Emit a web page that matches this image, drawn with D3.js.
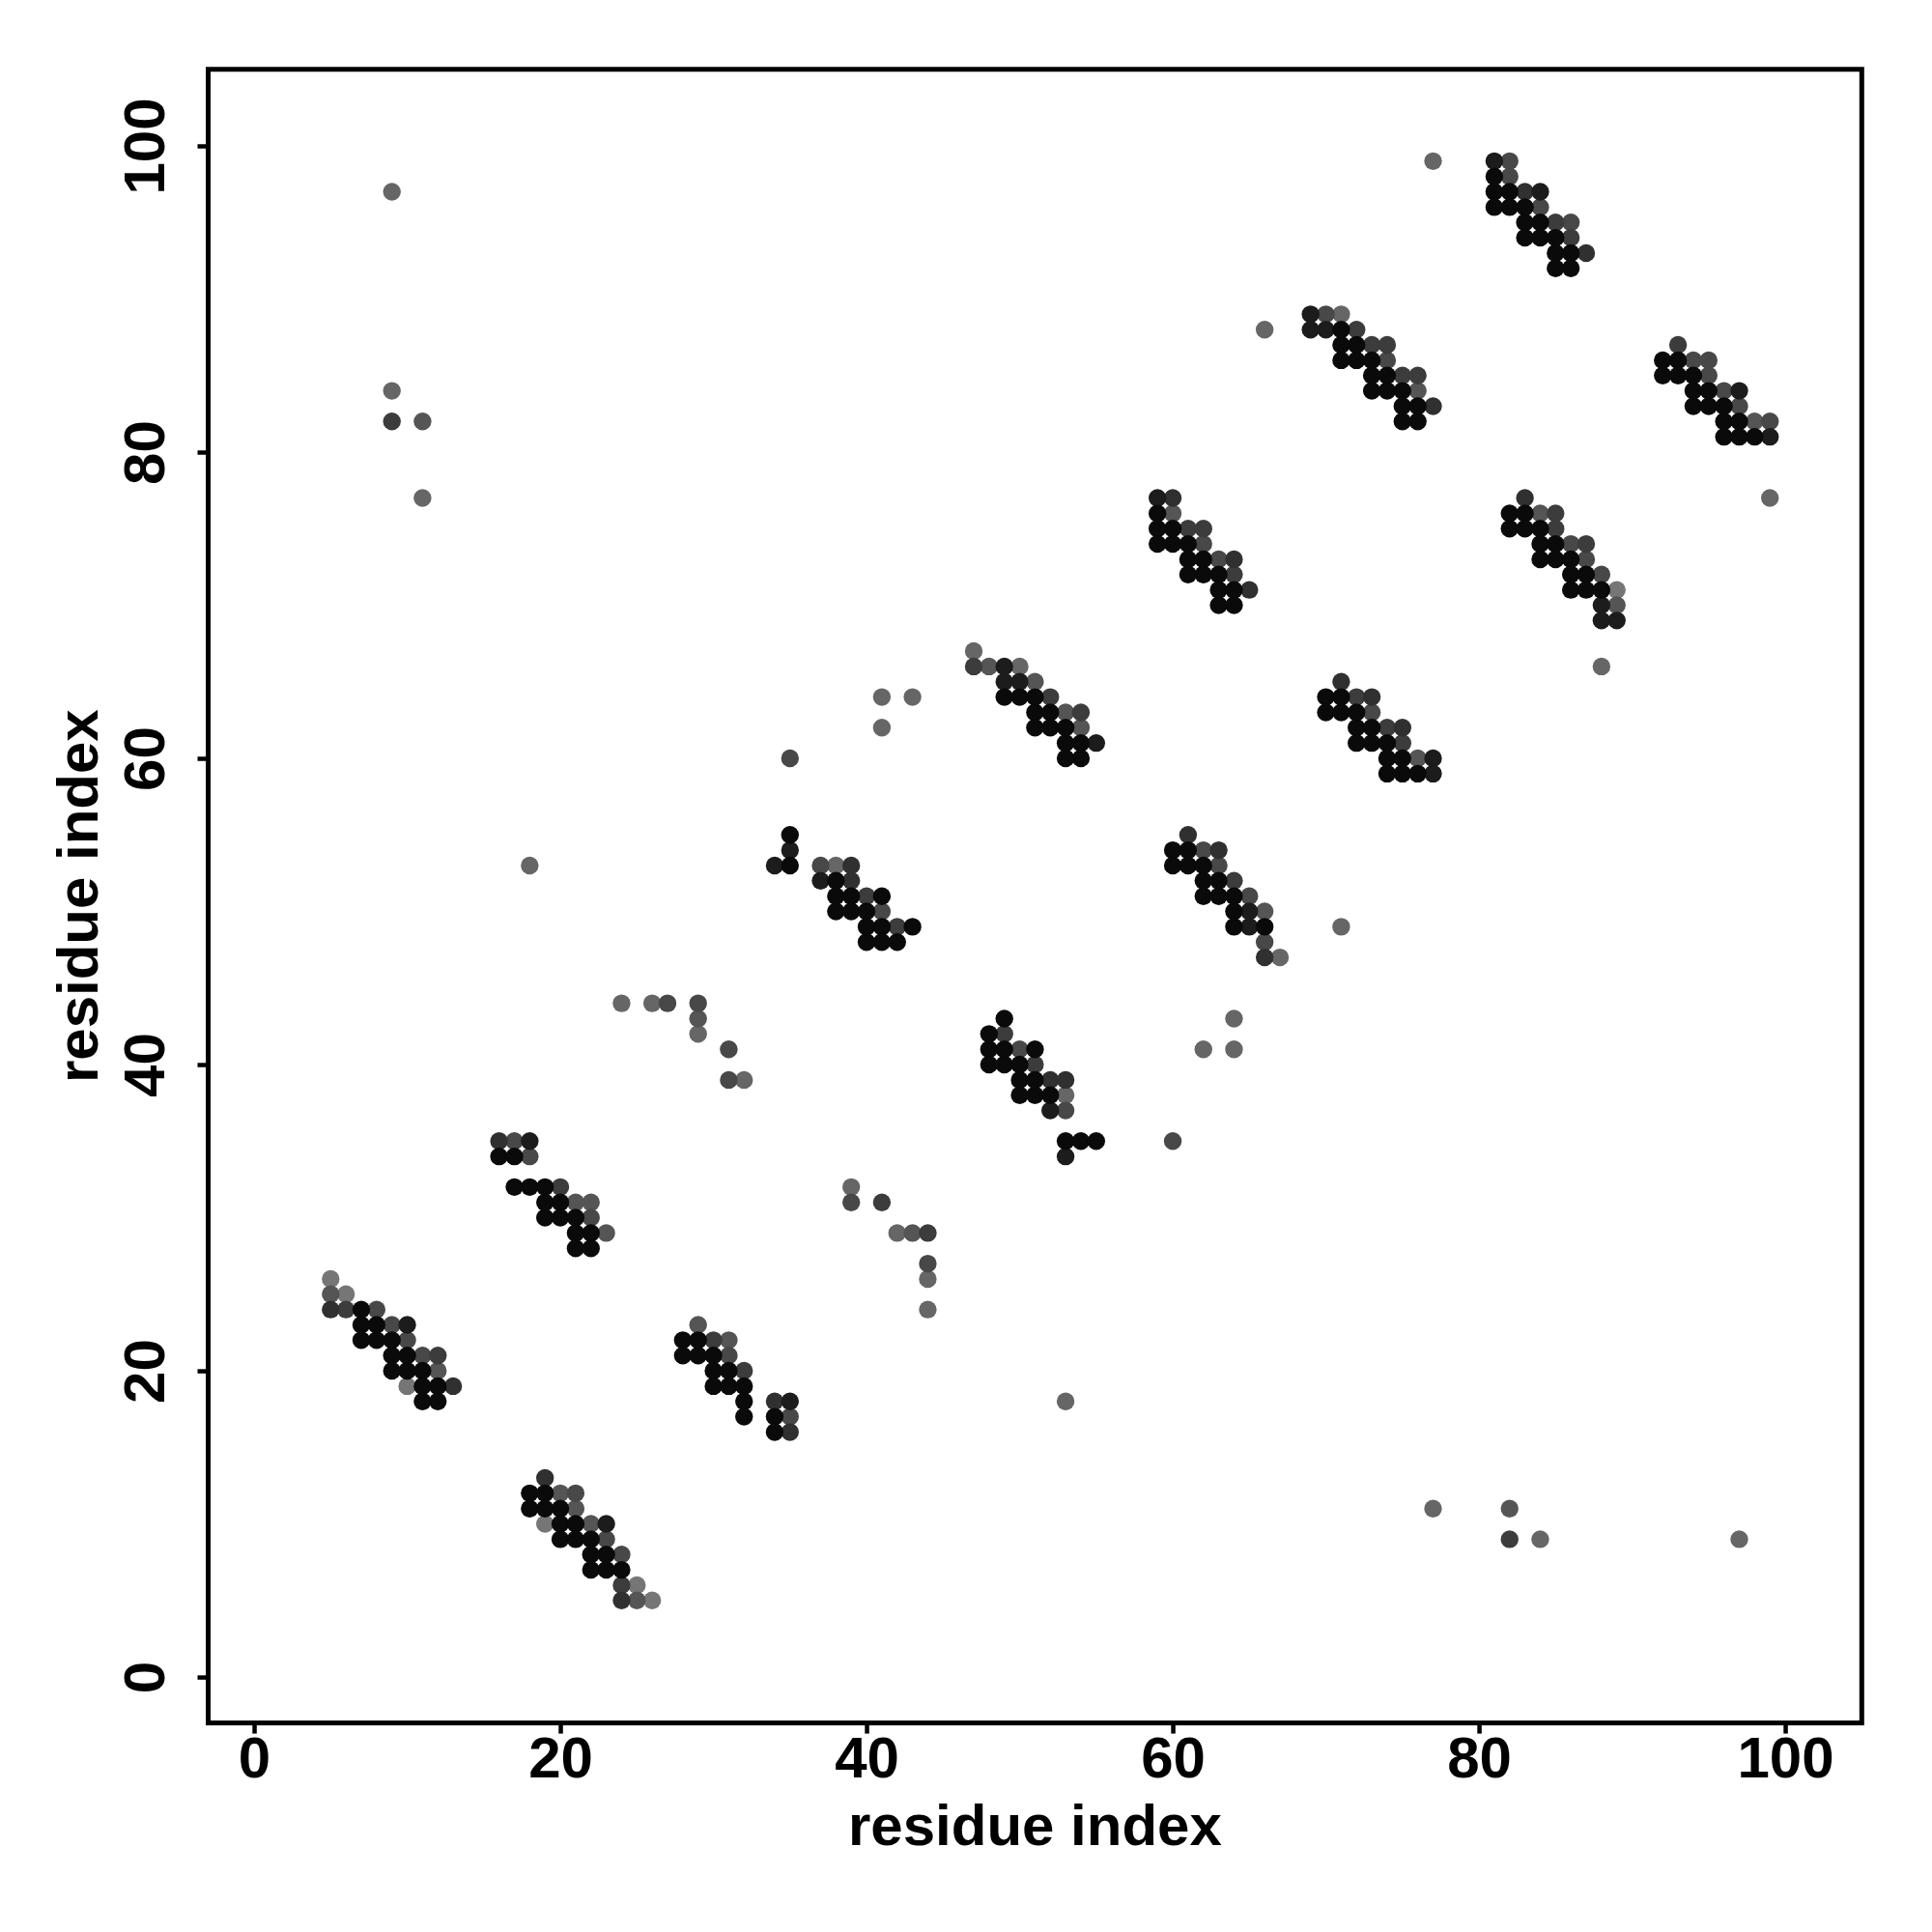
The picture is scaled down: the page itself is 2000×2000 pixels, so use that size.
<!DOCTYPE html>
<html><head><meta charset="utf-8">
<script src="https://cdn.jsdelivr.net/npm/d3@7"></script>
<style>body{margin:0;background:#fff}</style>
</head><body>
<svg id="chart" width="2000" height="2000"></svg>
<script>
// contact triples: [residue i, residue j, shade level (0 = strongest/darkest)]
const blockA = [[16,35,2],[17,35,4],[18,35,1],[16,34,0],[17,34,0],[18,34,4],[17,32,0],[18,32,0],[19,32,0],[20,32,3],[19,31,0],[20,31,0],[21,31,5],[22,31,5],[19,30,0],[20,30,0],[21,30,0],[22,30,4],[21,29,0],[22,29,0],[23,29,5],[21,28,0],[22,28,0]];
const blockB = [[5,26,7],[5,25,5],[6,25,7],[5,24,2],[6,24,3],[7,24,0],[8,24,4],[7,23,0],[8,23,0],[9,23,4],[10,23,1],[7,22,0],[8,22,0],[9,22,0],[10,22,4],[9,21,0],[10,21,0],[11,21,4],[12,21,3],[9,20,0],[10,20,0],[11,20,0],[12,20,5],[10,19,7],[11,19,0],[12,19,0],[13,19,2],[11,18,0],[12,18,0]];
const blockC = [[19,13,2],[18,12,0],[19,12,0],[20,12,5],[21,12,4],[18,11,0],[19,11,0],[20,11,0],[21,11,5],[19,10,7],[20,10,0],[21,10,0],[22,10,5],[23,10,1],[20,9,0],[21,9,0],[22,9,0],[23,9,4],[22,8,0],[23,8,0],[24,8,4],[22,7,0],[23,7,0],[24,7,0],[24,6,3],[25,6,7],[24,5,2],[25,5,5],[26,5,7]];
const blockD = [[29,23,5],[28,22,0],[29,22,0],[30,22,3],[31,22,5],[28,21,0],[29,21,0],[30,21,0],[31,21,4],[30,20,0],[31,20,0],[32,20,3],[30,19,0],[31,19,0],[32,19,0],[32,18,0],[32,17,0],[34,18,2],[35,18,1],[34,17,0],[35,17,4],[34,16,0],[35,16,2]];
const blockE = [[47,67,6],[47,66,3],[48,66,5],[49,66,1],[50,66,6],[49,65,1],[50,65,1],[51,65,5],[49,64,0],[50,64,0],[51,64,0],[52,64,3],[51,63,0],[52,63,0],[53,63,5],[54,63,3],[51,62,0],[52,62,0],[53,62,0],[54,62,5],[53,61,0],[54,61,0],[55,61,1],[53,60,0],[54,60,0]];
const blockF = [[35,55,0],[35,54,1],[35,53,0],[34,53,1],[37,53,4],[38,53,6],[39,53,2],[37,52,1],[38,52,0],[39,52,2],[38,51,0],[39,51,0],[40,51,3],[41,51,0],[38,50,0],[39,50,0],[40,50,0],[41,50,4],[40,49,0],[41,49,0],[42,49,3],[43,49,0],[40,48,0],[41,48,0],[42,48,0]];
const blockG = [[49,43,0],[48,42,0],[49,42,3],[48,41,0],[49,41,0],[50,41,4],[51,41,0],[48,40,0],[49,40,0],[50,40,0],[51,40,3],[50,39,0],[51,39,0],[52,39,2],[53,39,2],[50,38,0],[51,38,0],[52,38,0],[53,38,6],[52,37,1],[53,37,4],[53,35,0],[54,35,0],[55,35,0],[53,34,1]];
const blockH = [[59,77,1],[60,77,2],[59,76,0],[60,76,5],[59,75,0],[60,75,0],[61,75,3],[62,75,3],[59,74,0],[60,74,0],[61,74,0],[62,74,4],[61,73,0],[62,73,0],[63,73,4],[64,73,2],[61,72,0],[62,72,0],[63,72,0],[64,72,3],[63,71,0],[64,71,0],[65,71,2],[63,70,0],[64,70,0]];
const blockI = [[71,65,2],[70,64,0],[71,64,0],[72,64,3],[73,64,2],[70,63,0],[71,63,0],[72,63,0],[73,63,4],[72,62,0],[73,62,0],[74,62,3],[75,62,2],[72,61,0],[73,61,0],[74,61,0],[75,61,3],[74,60,0],[75,60,0],[76,60,5],[77,60,1],[74,59,0],[75,59,0],[76,59,0],[77,59,1]];
const blockJ = [[61,55,2],[60,54,0],[61,54,0],[62,54,4],[63,54,2],[60,53,0],[61,53,0],[62,53,0],[63,53,4],[62,52,0],[63,52,0],[64,52,3],[62,51,0],[63,51,0],[64,51,0],[65,51,4],[64,50,0],[65,50,1],[66,50,5],[64,49,0],[65,49,1],[66,49,0],[66,48,4],[66,47,2],[67,47,6]];
const blockK = [[81,99,1],[82,99,4],[81,98,0],[82,98,4],[81,97,0],[82,97,0],[83,97,2],[84,97,1],[81,96,0],[82,96,0],[83,96,0],[84,96,4],[83,95,0],[84,95,0],[85,95,3],[86,95,4],[83,94,0],[84,94,0],[85,94,0],[86,94,3],[85,93,0],[86,93,0],[87,93,2],[85,92,0],[86,92,0]];
const blockL = [[69,89,1],[70,89,4],[71,89,6],[69,88,1],[70,88,1],[71,88,0],[72,88,3],[71,87,0],[72,87,0],[73,87,3],[74,87,3],[71,86,0],[72,86,0],[73,86,0],[74,86,4],[73,85,0],[74,85,0],[75,85,3],[76,85,3],[73,84,0],[74,84,0],[75,84,0],[76,84,5],[75,83,0],[76,83,0],[77,83,2],[75,82,0],[76,82,0]];
const blockM = [[83,77,2],[82,76,0],[83,76,0],[84,76,5],[85,76,3],[82,75,0],[83,75,0],[84,75,0],[85,75,3],[84,74,0],[85,74,0],[86,74,4],[87,74,3],[84,73,0],[85,73,0],[86,73,0],[87,73,4],[86,72,0],[87,72,0],[88,72,4],[86,71,0],[87,71,0],[88,71,0],[89,71,7],[88,70,1],[89,70,5],[88,69,1],[89,69,1]];
const blockN = [[93,87,3],[92,86,0],[93,86,0],[94,86,4],[95,86,4],[92,85,0],[93,85,0],[94,85,0],[95,85,4],[94,84,0],[95,84,0],[96,84,4],[97,84,1],[94,83,0],[95,83,0],[96,83,0],[97,83,4],[96,82,0],[97,82,0],[98,82,5],[99,82,4],[96,81,0],[97,81,0],[98,81,0],[99,81,1]];
const sparse = [[9,97,6],[9,84,6],[9,82,3],[11,82,5],[11,77,6],[18,53,6],[24,44,6],[26,44,6],[27,44,4],[29,44,4],[29,43,5],[29,42,6],[31,41,4],[31,39,4],[32,39,6],[39,32,6],[39,31,4],[41,31,3],[42,29,6],[43,29,5],[44,29,3],[44,27,4],[44,26,6],[44,24,6],[41,64,6],[43,64,6],[41,62,6],[35,60,4],[53,18,6],[60,35,4],[62,41,6],[64,43,6],[64,41,6],[71,49,6],[66,88,6],[77,99,6],[88,66,6],[99,77,6],[77,11,6],[82,11,5],[82,9,3],[84,9,6],[97,9,6]];

const grayLevels = [10, 28, 48, 60, 72, 85, 102, 118];
const tickValues = [0, 20, 40, 60, 80, 100];
const xTitle = "residue index";
const yTitle = "residue index";

(function () {
  const points = [].concat(blockA, blockB, blockC, blockD, blockE, blockF, blockG,
    blockH, blockI, blockJ, blockK, blockL, blockM, blockN, sparse)
    .map(d => ({i: d[0], j: d[1], s: d[2]}))
    .sort((a, b) => b.s - a.s);

  const svg = d3.select("#chart");
  const pLeft = 215.5, pRight = 1927.3, pTop = 71.75, pBottom = 1783.6;
  const x = d3.scaleLinear().domain([-3, 105]).range([pLeft, pRight]);
  const y = d3.scaleLinear().domain([-3, 105]).range([pBottom, pTop]);
  const font = "'Liberation Sans', Arial, Helvetica, sans-serif";

  svg.append("rect").attr("width", 2000).attr("height", 2000).attr("fill", "#fff");

  svg.append("g").selectAll("circle").data(points).join("circle")
    .attr("cx", d => x(d.i))
    .attr("cy", d => y(d.j))
    .attr("r", 9.2)
    .attr("fill", d => { const g = grayLevels[d.s]; return d3.rgb(g, g, g).toString(); });

  svg.append("rect")
    .attr("x", pLeft).attr("y", pTop)
    .attr("width", pRight - pLeft).attr("height", pBottom - pTop)
    .attr("fill", "none").attr("stroke", "#000").attr("stroke-width", 5);

  const xAxis = svg.append("g").attr("transform", `translate(0,${pBottom})`)
    .call(d3.axisBottom(x).tickValues(tickValues).tickSize(11).tickSizeOuter(0));
  xAxis.select(".domain").remove();
  xAxis.selectAll(".tick line").attr("stroke", "#000").attr("stroke-width", 4.5);
  xAxis.selectAll(".tick text")
    .attr("y", 56).attr("dy", 0)
    .attr("font-family", font).attr("font-weight", "bold").attr("font-size", 60)
    .attr("fill", "#000");

  const yAxis = svg.append("g").attr("transform", `translate(${pLeft},0)`)
    .call(d3.axisLeft(y).tickValues(tickValues).tickSize(11).tickSizeOuter(0));
  yAxis.select(".domain").remove();
  yAxis.selectAll(".tick line").attr("stroke", "#000").attr("stroke-width", 4.5);
  yAxis.selectAll(".tick text")
    .attr("x", 0).attr("y", 0).attr("dy", 0)
    .attr("text-anchor", "middle")
    .attr("transform", "translate(-45.5,0) rotate(-90)")
    .attr("font-family", font).attr("font-weight", "bold").attr("font-size", 60)
    .attr("fill", "#000");

  svg.append("text")
    .attr("x", (pLeft + pRight) / 2).attr("y", 1910)
    .attr("text-anchor", "middle")
    .attr("font-family", font).attr("font-weight", "bold").attr("font-size", 60)
    .text(xTitle);

  svg.append("text")
    .attr("transform", `translate(101,${(pTop + pBottom) / 2}) rotate(-90)`)
    .attr("text-anchor", "middle")
    .attr("font-family", font).attr("font-weight", "bold").attr("font-size", 60)
    .text(yTitle);
})();
</script>
</body></html>
